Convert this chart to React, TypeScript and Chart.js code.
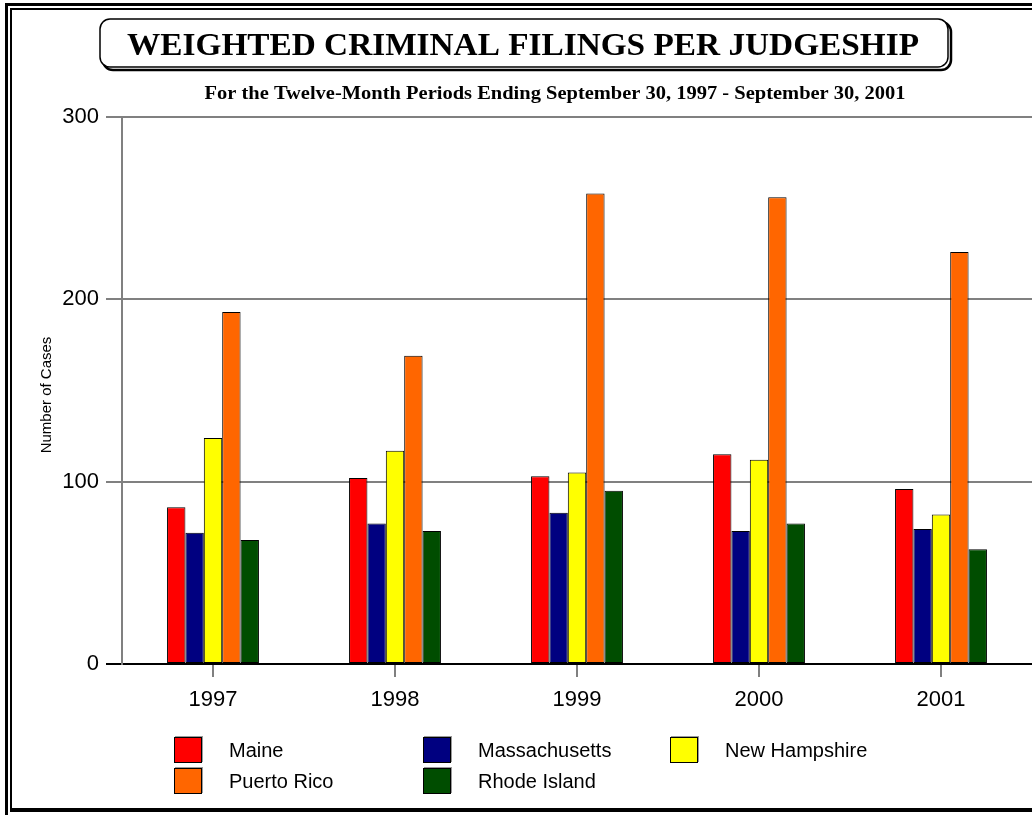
import React, { useEffect, useRef } from "react";
import { Chart, registerables } from "chart.js";

Chart.register(...registerables);

// Reporting years (twelve-month periods ending September 30)
const years = ["1997", "1998", "1999", "2000", "2001"];

// Weighted criminal filings per judgeship, by district
const maine = [86, 102, 103, 115, 96];
const massachusetts = [72, 77, 83, 73, 74];
const newHampshire = [124, 117, 105, 112, 82];
const puertoRico = [193, 169, 258, 256, 226];
const rhodeIsland = [68, 73, 95, 77, 63];

const seriesNames = ["Maine", "Massachusetts", "New Hampshire", "Puerto Rico", "Rhode Island"];
const seriesValues = [maine, massachusetts, newHampshire, puertoRico, rhodeIsland];
const seriesColors = ["#FF0000", "#000080", "#FFFF00", "#FF6600", "#004D00"];

const yTicks = [0, 100, 200, 300];

const titleText = "WEIGHTED CRIMINAL FILINGS PER JUDGESHIP";
const subtitleText = "For the Twelve-Month Periods Ending September 30, 1997 - September 30, 2001";
const yAxisTitle = "Number of Cases";

const SANS = "'Liberation Sans', Arial, sans-serif";
const SERIF = "'Liberation Serif', 'Times New Roman', serif";

function roundRectPath(ctx: CanvasRenderingContext2D, x: number, y: number, w: number, h: number, r: number) {
  ctx.beginPath();
  ctx.moveTo(x + r, y);
  ctx.lineTo(x + w - r, y);
  ctx.arcTo(x + w, y, x + w, y + r, r);
  ctx.lineTo(x + w, y + h - r);
  ctx.arcTo(x + w, y + h, x + w - r, y + h, r);
  ctx.lineTo(x + r, y + h);
  ctx.arcTo(x, y + h, x, y + h - r, r);
  ctx.lineTo(x, y + r);
  ctx.arcTo(x, y, x + r, y, r);
  ctx.closePath();
}

// Draws text centred on cx, stretched horizontally to span the given width
function stretchedText(ctx: CanvasRenderingContext2D, text: string, cx: number, baseline: number, width: number) {
  const natural = ctx.measureText(text).width;
  const sx = width / natural;
  ctx.save();
  ctx.translate(cx, baseline);
  ctx.scale(sx, 1);
  ctx.textAlign = "center";
  ctx.textBaseline = "alphabetic";
  ctx.fillText(text, 0, 0);
  ctx.restore();
}

// Page frame, title panel, subtitle and vertical axis caption
const decorPlugin = {
  id: "pageDecor",
  beforeDraw(chart: any) {
    const ctx: CanvasRenderingContext2D = chart.ctx;
    const W = chart.width;
    const H = chart.height;
    ctx.save();
    ctx.fillStyle = "#FFFFFF";
    ctx.fillRect(0, 0, W, H);

    // double rule around the page
    ctx.fillStyle = "#000000";
    ctx.fillRect(5, 3, 3, H - 3);
    ctx.fillRect(5, 3, W - 5, 3);
    ctx.fillRect(10, 8, 2, 804);
    ctx.fillRect(10, 8, W - 10, 2);
    ctx.fillRect(10, 808, W - 10, 4);

    // title panel with drop shadow
    const bx = 100, by = 19, bw = 848, bh = 48, br = 10;
    roundRectPath(ctx, bx + 3, by + 3, bw, bh, br);
    ctx.lineWidth = 2.5;
    ctx.strokeStyle = "#000000";
    ctx.stroke();
    roundRectPath(ctx, bx, by, bw, bh, br);
    ctx.fillStyle = "#FFFFFF";
    ctx.fill();
    ctx.lineWidth = 1.5;
    ctx.stroke();

    ctx.fillStyle = "#000000";
    ctx.font = `bold 32px ${SERIF}`;
    stretchedText(ctx, titleText, 523, 55, 792);

    ctx.font = `bold 18px ${SERIF}`;
    stretchedText(ctx, subtitleText, 555, 99, 701);

    // vertical axis caption
    ctx.save();
    ctx.translate(47, 395);
    ctx.rotate(-Math.PI / 2);
    ctx.font = `15px ${SANS}`;
    ctx.textAlign = "center";
    ctx.textBaseline = "middle";
    ctx.fillText(yAxisTitle, 0, 0);
    ctx.restore();

    ctx.restore();
  },
  afterDraw(chart: any) {
    // three-column legend below the plot
    const ctx: CanvasRenderingContext2D = chart.ctx;
    const colX = [174, 423, 670];
    const rowY = [737, 768];
    ctx.save();
    chart.data.datasets.forEach((ds: any, i: number) => {
      const x = colX[i % 3];
      const y = rowY[Math.floor(i / 3)];
      ctx.fillStyle = "#9A9A9A";
      ctx.fillRect(x + 1, y - 1, 28, 26);
      ctx.fillStyle = ds.backgroundColor;
      ctx.fillRect(x, y, 28, 26);
      ctx.strokeStyle = "#000000";
      ctx.lineWidth = 1;
      ctx.strokeRect(x + 0.5, y + 0.5, 27, 25);
      ctx.fillStyle = "#000000";
      ctx.font = `20px ${SANS}`;
      ctx.textAlign = "left";
      ctx.textBaseline = "middle";
      ctx.fillText(ds.label, x + 55, y + 14);
    });
    ctx.restore();
  },
};

export default function App() {
  const canvasRef = useRef<HTMLCanvasElement | null>(null);

  useEffect(() => {
    const canvas = canvasRef.current;
    if (!canvas) return;
    const chart = new Chart(canvas, {
      type: "bar",
      data: {
        labels: years,
        datasets: seriesNames.map((name, i) => ({
          label: name,
          data: seriesValues[i],
          backgroundColor: seriesColors[i],
          borderColor: "#000000",
          borderWidth: 1,
          borderSkipped: false,
          categoryPercentage: 0.505,
          barPercentage: 1,
        })),
      },
      options: {
        responsive: false,
        animation: false,
        devicePixelRatio: 1,
        layout: { padding: { top: 117, right: 0, bottom: 0, left: 0 } },
        plugins: {
          legend: { display: false },
          title: { display: false },
          tooltip: { enabled: false },
        },
        scales: {
          x: {
            grid: {
              offset: false,
              drawOnChartArea: false,
              drawTicks: true,
              tickLength: 13,
              color: "#808080",
              lineWidth: 2,
            },
            border: { display: true, color: "#000000", width: 2 },
            ticks: {
              color: "#000000",
              font: { family: SANS, size: 22 },
              padding: 10,
            },
            afterFit: (scale: any) => {
              scale.height = 151;
            },
          },
          y: {
            min: 0,
            max: 300,
            afterBuildTicks: (scale: any) => {
              scale.ticks = yTicks.map((v) => ({ value: v }));
            },
            grid: {
              drawTicks: true,
              tickLength: 16,
              lineWidth: 2,
              color: (c: any) => (c.tick && c.tick.value === 0 ? "#000000" : "#808080"),
            },
            border: { display: true, color: "#808080", width: 2 },
            ticks: {
              color: "#000000",
              font: { family: SANS, size: 22 },
              padding: 7,
            },
            afterFit: (scale: any) => {
              scale.width = 122;
            },
          },
        },
      },
      plugins: [decorPlugin],
    });
    return () => chart.destroy();
  }, []);

  return (
    <div style={{ position: "fixed", left: 0, top: 0, width: 1032, height: 815, background: "#FFFFFF" }}>
      <canvas ref={canvasRef} width={1032} height={815} style={{ width: 1032, height: 815, display: "block" }} />
    </div>
  );
}
